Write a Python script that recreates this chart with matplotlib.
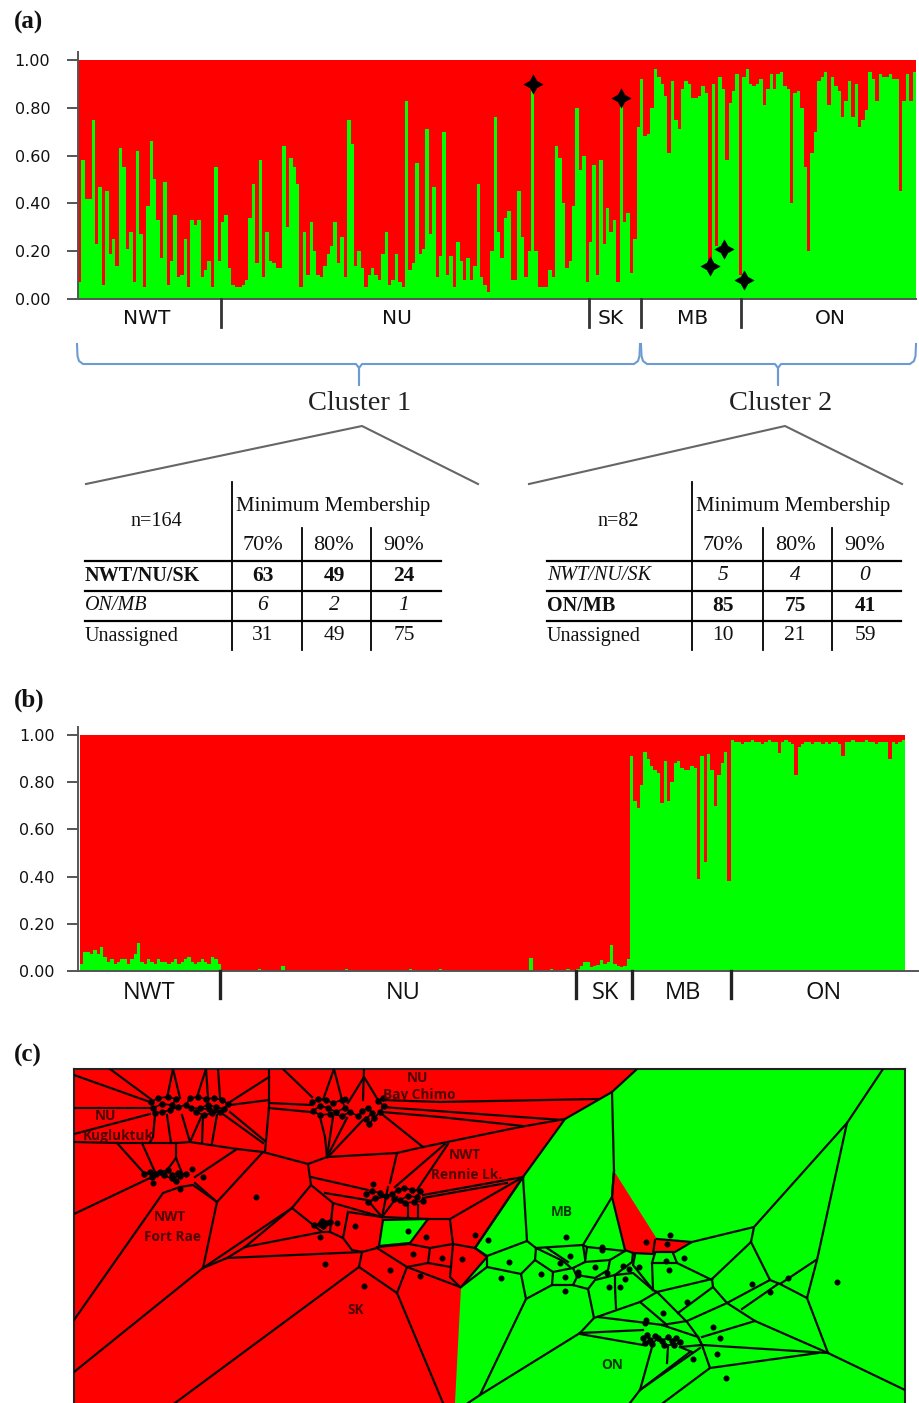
"""Admixture bar plots (a, b), membership tables and Voronoi map (c)."""
import matplotlib
matplotlib.use('Agg')
import matplotlib.pyplot as plt

RED = '#FF0000'
GREEN = '#00FF00'
AXIS = '#555555'
INK = '#111111'
BRACE = '#6C9BD2'
W, H = 919, 1403

# panel (a): share of the green cluster per individual
a_green_left = [
    .07, .58, .42, .42, .75, .23, .47, .06, .45, .19, .25, .14, .63, .55, .21, .28, .07, .62, .27, .05,
    .39, .66, .50, .33, .17, .49, .06, .16, .35, .09, .10, .25, .05, .33, .31, .33, .09, .12, .16, .05,
    .55, .16, .32, .35, .13, .06, .05, .05, .06, .08, .34, .48, .15, .58, .09, .28, .16, .15, .13, .13,
    .64, .30, .59, .55, .48, .05, .28, .10, .32, .20, .10, .09, .14, .19, .22, .32, .15, .26, .09, .75,
    .65, .14, .20, .13, .05, .10, .13, .10, .08, .19, .28, .06, .08, .19, .07, .05, .83, .12, .15, .57,
    .19, .21, .71, .27, .47, .09, .18, .70, .10, .18, .05, .24,
]
a_green_mid = [
    .16, .08, .17, .08, .14, .48, .09, .06, .03, .20, .76, .28, .17, .34, .37, .08, .08, .45, .26, .09,
    .20, .90, .20, .05, .05, .05, .12, .09, .64, .59, .40, .13, .16, .39, .80, .54, .60, .07, .24, .56,
    .10, .58, .23, .38, .28, .33, .07, .84, .32, .36, .11, .25,
]
a_green_right = [
    .72, .92, .68, .69, .80, .96, .93, .90, .85, .61, .91, .75, .71, .88, .91, .90, .84, .84, .85, .89,
    .86, .14, .90, .22, .93, .88, .58, .82, .87, .94, .10, .93, .96, .90, .89, .90, .92, .81, .88, .94,
    .88, .94, .95, .89, .88, .40, .86, .87, .80, .55, .20, .61, .70, .91, .93, .95, .81, .93, .89, .87,
    .76, .83, .91, .76, .90, .72, .75, .79, .95, .92, .83, .94, .93, .93, .94, .92, .92, .45, .83, .94,
    .83, .95,
]
a_green = a_green_left + a_green_mid + a_green_right
star_bars = [133, 159, 185, 189, 195]
star_vals = [.90, .84, .14, .21, .08]
y_ticks = [0.0, 0.2, 0.4, 0.6, 0.8, 1.0]
y_labels = ['0.00', '0.20', '0.40', '0.60', '0.80', '1.00']
region_names = ['NWT', 'NU', 'SK', 'MB', 'ON']

# panel (b): share of the green cluster per individual
b_green_nwt = [
    .03, .08, .08, .07, .09, .07, .10, .06, .04, .05, .03, .04, .05, .05, .03, .05, .07, .12, .04, .03,
    .05, .04, .03, .05, .04, .04, .03, .04, .05, .03, .04, .05, .06, .04, .03, .04, .05, .04, .03, .06,
    .05, .03,
]
b_green_nu = [
    0, 0, 0, 0, 0, 0, 0, 0, 0, 0, 0, .01, 0, 0, 0, 0, 0, 0, .02, 0,
    0, 0, 0, 0, 0, 0, 0, 0, 0, 0, 0, 0, 0, 0, 0, 0, 0, .01, 0, 0,
    0, 0, 0, 0, 0, 0, 0, 0, 0, 0, 0, 0, 0, 0, 0, 0, .01, 0, 0, 0,
    0, 0, 0, 0, 0, .01, 0, 0, 0, 0, 0, 0, 0, 0, 0, 0, 0, 0, 0, 0,
    0, 0, 0, 0, 0, 0, 0, 0, 0, 0, 0, 0, .055, 0, 0, 0, 0, 0, .01, 0,
    0, 0, 0, .01, 0, 0,
]
b_green_sk = [.01, .02, .04, .04, .015, .02, .025, .045, .03, .04, .11, .03, .02, .015, .02, .05]
b_green_mb = [
    .91, .72, .69, .79, .93, .90, .87, .85, .84, .71, .89, .72, .80, .88, .89, .86, .85, .85, .87, .86,
    .39, .91, .46, .92, .85, .70, .83, .88, .93, .38,
]
b_green_on = [
    .98, .97, .97, .96, .97, .97, .98, .97, .97, .96, .97, .98, .97, .97, .925, .97, .98, .97, .96, .83,
    .95, .96, .97, .97, .96, .97, .97, .96, .97, .96, .97, .97, .96, .91, .97, .97, .98, .97, .97, .97,
    .98, .97, .97, .96, .97, .97, .97, .90, .97, .96, .97, .98,
]
b_green = b_green_nwt + b_green_nu + b_green_sk + b_green_mb + b_green_on

# membership tables
table_cols = ['70%', '80%', '90%']
left_rows = ['NWT/NU/SK', 'ON/MB', 'Unassigned']
left_vals = [[63, 49, 24], [6, 2, 1], [31, 49, 75]]
right_rows = ['NWT/NU/SK', 'ON/MB', 'Unassigned']
right_vals = [[5, 4, 0], [85, 75, 41], [10, 21, 59]]

# panel (c): map geometry, in map units
map_red = [(74, 1069), (637, 1069), (612, 1092), (565, 1119), (523, 1177), (475, 1248), (487, 1257),
           (461, 1287), (455, 1403), (74, 1403)]
map_green_cell = [(383, 1220), (428, 1219), (410, 1243), (379, 1246)]
map_red_cell = [(614, 1171), (612, 1197), (625, 1250), (633, 1253), (653, 1254), (656, 1252), (675, 1252),
                (692, 1242), (657, 1239)]
map_edges = [
    [(74, 1075), (150, 1102)], [(110, 1069), (152, 1100)], [(74, 1108), (150, 1108)], [(74, 1134), (150, 1114)],
    [(74, 1142), (117, 1143), (177, 1143), (190, 1142), (217, 1146), (237, 1149), (263, 1152), (308, 1164),
     (327, 1157), (397, 1153), (423, 1147), (520, 1127), (565, 1119)],
    [(269, 1069), (269, 1107), (265, 1152)], [(269, 1077), (230, 1102)], [(269, 1100), (230, 1105)],
    [(230, 1112), (265, 1141)], [(220, 1112), (263, 1143)],
    [(167, 1098), (173, 1069), (180, 1098)], [(197, 1097), (206, 1069), (208, 1097)], [(218, 1069), (220, 1097)],
    [(155, 1115), (153, 1137), (150, 1142)], [(167, 1115), (171, 1143)], [(182, 1115), (190, 1142), (202, 1115)],
    [(203, 1115), (202, 1143)], [(217, 1115), (212, 1143)],
    [(283, 1069), (312, 1097)], [(323, 1100), (334, 1069), (342, 1100)], [(364, 1069), (363, 1100)],
    [(348, 1103), (364, 1077), (378, 1100)], [(269, 1103), (312, 1105)], [(269, 1108), (310, 1112)],
    [(382, 1100), (440, 1102), (598, 1099)], [(382, 1107), (520, 1117), (563, 1120)],
    [(382, 1112), (440, 1117), (523, 1126)], [(383, 1115), (423, 1147)],
    [(320, 1117), (325, 1137), (327, 1157)], [(333, 1117), (327, 1157)], [(347, 1118), (327, 1157)],
    [(363, 1120), (328, 1157)],
    [(117, 1143), (143, 1172)], [(142, 1143), (155, 1172)], [(176, 1143), (176, 1158), (165, 1173)],
    [(176, 1158), (182, 1173)], [(237, 1149), (195, 1177)], [(263, 1152), (217, 1202), (195, 1183)],
    [(74, 1214), (150, 1178)], [(74, 1320), (163, 1193), (180, 1187), (193, 1185), (217, 1202), (203, 1268)],
    [(74, 1372), (203, 1268), (227, 1258), (362, 1252)], [(203, 1268), (292, 1208), (311, 1185), (308, 1164)],
    [(175, 1403), (359, 1267), (362, 1252)], [(359, 1267), (397, 1293), (443, 1403)],
    [(397, 1293), (407, 1267), (460, 1287)], [(407, 1267), (377, 1248), (362, 1252)],
    [(407, 1267), (428, 1263), (430, 1248), (409, 1244), (377, 1247)],
    [(428, 1263), (451, 1267), (453, 1244), (430, 1248)], [(453, 1244), (475, 1248)],
    [(451, 1267), (450, 1277), (460, 1287)], [(450, 1220), (453, 1244)],
    [(428, 1219), (450, 1219), (523, 1177)],
    [(383, 1220), (428, 1219), (410, 1243), (379, 1246), (383, 1220)],
    [(311, 1185), (333, 1203), (382, 1217)], [(311, 1177), (368, 1190)], [(325, 1193), (367, 1200)],
    [(397, 1153), (390, 1183)], [(445, 1144), (395, 1187)], [(448, 1144), (417, 1190)],
    [(423, 1195), (523, 1177)], [(423, 1198), (507, 1183)],
    [(333, 1203), (330, 1232), (343, 1238), (352, 1250), (362, 1252)], [(348, 1212), (343, 1238)],
    [(292, 1208), (322, 1232), (330, 1232)], [(245, 1247), (322, 1232)], [(245, 1247), (227, 1258)],
    [(245, 1247), (292, 1208)], [(382, 1217), (370, 1203)], [(382, 1217), (388, 1187)], [(382, 1217), (397, 1197)],
    [(408, 1217), (408, 1203)], [(418, 1217), (418, 1205)], [(348, 1212), (382, 1217), (428, 1219)],
    # green side
    [(612, 1092), (614, 1171), (612, 1197), (583, 1245)], [(523, 1177), (527, 1241)],
    [(475, 1248), (487, 1256), (527, 1241), (536, 1248), (583, 1245), (587, 1247), (625, 1251)],
    [(487, 1267), (521, 1274), (535, 1260), (536, 1248)], [(461, 1287), (487, 1267), (487, 1256)],
    [(521, 1274), (526, 1299), (552, 1285), (573, 1285), (588, 1289), (595, 1280), (615, 1275), (632, 1262),
     (633, 1253)],
    [(526, 1299), (480, 1395), (468, 1403)], [(480, 1395), (580, 1333)],
    [(535, 1260), (553, 1272), (573, 1268), (585, 1262), (610, 1260), (625, 1251)], [(553, 1272), (552, 1285)],
    [(573, 1268), (577, 1277), (573, 1285)], [(585, 1262), (587, 1247)],
    [(536, 1248), (563, 1261), (570, 1267)], [(547, 1248), (568, 1262)], [(583, 1245), (585, 1258)],
    [(610, 1260), (608, 1270), (595, 1278), (577, 1275)], [(588, 1289), (594, 1318), (580, 1333)],
    [(615, 1275), (615, 1287), (616, 1308)],
    [(594, 1318), (640, 1302), (657, 1292), (653, 1290), (633, 1273), (615, 1275)],
    [(657, 1292), (712, 1279)], [(635, 1255), (633, 1265), (653, 1290)], [(655, 1253), (652, 1263), (653, 1290)],
    [(652, 1263), (677, 1263), (673, 1253)], [(677, 1263), (712, 1280)], [(655, 1240), (653, 1254)],
    [(712, 1279), (751, 1242), (754, 1227), (692, 1242)], [(754, 1227), (847, 1123), (883, 1069)],
    [(847, 1123), (817, 1260), (807, 1298), (828, 1353), (905, 1390)],
    [(751, 1242), (770, 1280), (780, 1284), (816, 1260)], [(780, 1284), (807, 1298)],
    [(770, 1280), (727, 1303), (713, 1287), (712, 1279)], [(778, 1284), (742, 1309)],
    [(727, 1303), (755, 1321), (828, 1353)], [(755, 1321), (702, 1337)], [(727, 1303), (687, 1321), (662, 1325)],
    [(713, 1287), (678, 1313)],
    [(657, 1292), (687, 1322), (698, 1337), (702, 1345), (710, 1368), (663, 1403)],
    [(710, 1368), (818, 1353)], [(702, 1345), (828, 1353)], [(700, 1348), (640, 1390), (630, 1403)],
    [(640, 1302), (667, 1325)], [(598, 1317), (663, 1325)], [(580, 1333), (643, 1330)], [(580, 1334), (643, 1345)],
    [(652, 1347), (640, 1390)], [(668, 1347), (667, 1363)], [(680, 1347), (692, 1352)], [(640, 1390), (690, 1352)],
    [(698, 1337), (702, 1345), (680, 1347)], [(662, 1325), (698, 1337)],
    [(523, 1177), (475, 1248)],
]
# isolated samples
map_dots = [
    (256, 1197), (203, 1177), (192, 1169), (153, 1183), (180, 1189), (337, 1223), (355, 1226), (320, 1237),
    (325, 1264), (364, 1286), (390, 1270), (420, 1276), (413, 1254), (442, 1258), (462, 1259), (408, 1231),
    (426, 1237), (475, 1235), (488, 1240), (509, 1262), (501, 1278), (373, 1184), (345, 1099), (566, 1237),
    (570, 1256), (560, 1263), (541, 1274), (565, 1277), (565, 1291), (578, 1272), (578, 1275), (602, 1247),
    (602, 1250), (595, 1267), (607, 1273), (623, 1266), (629, 1269), (625, 1279), (609, 1287), (620, 1287),
    (639, 1267), (646, 1242), (667, 1244), (670, 1235), (684, 1258), (666, 1261), (669, 1270), (752, 1284),
    (770, 1292), (788, 1278), (837, 1282), (687, 1302), (663, 1313), (713, 1327), (720, 1338), (717, 1354),
    (693, 1359), (726, 1378), (646, 1320), (645, 1323),
]
# tight sample groups, in walking order so that they read as a small web of cells
map_groups = [
    [(151, 1102), (158, 1098), (168, 1097), (176, 1099), (172, 1105), (162, 1104), (153, 1108), (155, 1113),
     (162, 1112), (170, 1110), (178, 1107), (186, 1105), (190, 1098), (198, 1097), (206, 1099), (214, 1098),
     (222, 1100), (228, 1104), (224, 1109), (216, 1107), (208, 1105), (200, 1108), (196, 1112), (204, 1115),
     (212, 1113), (220, 1112), (209, 1109), (191, 1108)],
    [(312, 1102), (318, 1099), (326, 1100), (333, 1103), (342, 1100), (345, 1108), (336, 1112), (328, 1108),
     (320, 1106), (313, 1111), (320, 1115), (330, 1114), (342, 1116), (350, 1112), (358, 1116), (362, 1111),
     (368, 1108), (372, 1113), (366, 1119), (369, 1124), (374, 1118), (380, 1112), (384, 1106), (378, 1101),
     (383, 1098)],
    [(144, 1174), (150, 1172), (156, 1174), (152, 1177), (160, 1172), (168, 1170), (172, 1175), (178, 1173),
     (186, 1174), (180, 1176), (172, 1178), (176, 1181), (164, 1175)],
    [(366, 1194), (372, 1191), (380, 1193), (386, 1196), (375, 1198), (368, 1202), (392, 1194), (398, 1190),
     (404, 1188), (412, 1190), (420, 1191), (417, 1197), (408, 1196), (400, 1200), (394, 1199), (405, 1203),
     (414, 1202), (423, 1201)],
    [(314, 1225), (320, 1224), (322, 1221), (326, 1223), (330, 1222), (323, 1226)],
    [(643, 1338), (647, 1335), (650, 1340), (645, 1343), (652, 1344), (658, 1338), (662, 1341), (668, 1337),
     (672, 1341), (676, 1338), (680, 1342), (674, 1345), (664, 1345), (655, 1336)],
]

plt.rcParams['font.family'] = 'Liberation Serif'
fig = plt.figure(figsize=(W / 100, H / 100), dpi=100, facecolor='white')


def axes_px(x0, y0, x1, y1, **kw):
    return fig.add_axes([x0 / W, 1 - y1 / H, (x1 - x0) / W, (y1 - y0) / H], **kw)


def struct_plot(ax, green, n_span):
    xs = range(len(green))
    reds = [1 - g for g in green]
    ax.bar(xs, green, width=1.0, align='edge', color=GREEN, linewidth=0, antialiased=False, zorder=2)
    ax.bar(xs, reds, bottom=green, width=1.0, align='edge', color=RED, linewidth=0, antialiased=False, zorder=2)
    ax.set_ylim(0, 1.033)
    ax.set_yticks(y_ticks)
    ax.set_yticklabels(y_labels, fontsize=11.5, family='DejaVu Sans', color=INK)
    ax.set_xticks([])
    ax.tick_params(axis='y', length=8, width=1.4, color=AXIS, pad=12)
    for s in ['top', 'right']:
        ax.spines[s].set_visible(False)
    for s in ['left', 'bottom']:
        ax.spines[s].set_color(AXIS)
        ax.spines[s].set_linewidth(1.4)
    ax.set_facecolor('none')


# panel a
ax_a = axes_px(78, 52, 916, 299)
struct_plot(ax_a, a_green, len(a_green))
ax_a.set_xlim(0, len(a_green))
ax_a.plot([b + 0.5 for b in star_bars], star_vals, ls='none', marker=(4, 1, 0), ms=14, mfc='black',
          mec='black', mew=0.3, zorder=4)

# panel b
ax_b = axes_px(78, 727, 918, 971)
struct_plot(ax_b, b_green, len(b_green))
ax_b.set_ylim(0, 244 / 236)
ax_b.set_xlim(-0.6, len(b_green) * 838 / 825)
ax_b.tick_params(axis='y', pad=9)

# panel c
ax_c = axes_px(74, 1069, 905, 1403)
ax_c.set_xlim(74, 905)
ax_c.set_ylim(1403, 1069)
ax_c.set_facecolor(GREEN)
ax_c.fill(*zip(*map_red), color=RED, lw=0, zorder=1)
ax_c.fill(*zip(*map_green_cell), color=GREEN, lw=0, zorder=2)
ax_c.fill(*zip(*map_red_cell), color=RED, lw=0, zorder=2)
for edge in map_edges:
    ax_c.plot(*zip(*edge), color='#0a0a0a', lw=1.6, solid_joinstyle='round', zorder=3)
ax_c.plot(*zip(*map_red[1:-2]), color='#0a0a0a', lw=1.6, zorder=3)
ax_c.plot(*zip(*map_red_cell), color='#0a0a0a', lw=1.6, zorder=3)
ax_c.plot(*zip(*map_dots), ls='none', marker='o', ms=3.3, color='black', zorder=4)
for group in map_groups:
    ax_c.plot(*zip(*group), color='black', lw=1.2, marker='o', ms=3.6, zorder=4)
ax_c.set_xticks([])
ax_c.set_yticks([])
for s in ax_c.spines.values():
    s.set_color('#222222')
    s.set_linewidth(1.5)
ax_c.spines['bottom'].set_visible(False)

map_labels = [('NU', 417, 1078, '#4a0500'), ('Bay Chimo', 419, 1095, '#4a0500'), ('NU', 105, 1116, '#4a0500'),
              ('Kugluktuk', 118, 1136, '#4a0500'), ('NWT', 465, 1155, '#4a0500'), ('Rennie Lk.', 467, 1175, '#4a0500'),
              ('NWT', 170, 1217, '#4a0500'), ('Fort Rae', 172, 1237, '#4a0500'), ('SK', 356, 1310, '#4a0500'),
              ('MB', 562, 1212, '#063a00'), ('ON', 612, 1365, '#063a00')]
for txt, x, y, col in map_labels:
    ax_c.text(x, y, txt, ha='center', va='center', fontsize=9.8, fontweight='bold', family='Open Sans',
              color=col, zorder=5)

# everything else sits on a page layer in image pixels
page = fig.add_axes([0, 0, 1, 1], zorder=5)
page.set_xlim(0, W)
page.set_ylim(H, 0)
page.axis('off')

for txt, y in [('(a)', 22), ('(b)', 700), ('(c)', 1055)]:
    page.text(14, y, txt, fontsize=18, fontweight='bold', ha='left', va='center', color=INK)

for x in [221, 589, 641, 741]:
    page.plot([x, x], [299, 327], color='#333333', lw=2.0)
for x in [220, 576, 632, 731]:
    page.plot([x, x], [971, 998], color='#222222', lw=2.4)
for name, x in zip(region_names, [147, 397, 611, 693, 830]):
    page.text(x, 319, name, fontsize=14.5, family='DejaVu Sans', ha='center', va='center', color=INK)
for name, x in zip(region_names, [149, 403, 605, 683, 824]):
    page.text(x, 993, name, fontsize=17, family='Open Sans', ha='center', va='center', color=INK)

# braces under panel a
for x0, xm, x1 in [(77, 359, 640), (641, 778, 916)]:
    page.plot([x0, x0 + 0.5, x0 + 2, x0 + 6, xm - 3, xm, xm, xm, xm + 3, x1 - 6, x1 - 2, x1 - 0.5, x1],
              [344, 356, 361, 364, 364, 368, 385, 368, 364, 364, 361, 356, 344], color=BRACE, lw=1.5)
page.text(360, 403, 'Cluster 1', fontsize=20.5, ha='center', va='center', color='#222222')
page.text(781, 403, 'Cluster 2', fontsize=20.5, ha='center', va='center', color='#222222')
for xs in [(86, 362, 478), (529, 785, 902)]:
    page.plot(xs, [484, 426, 484], color='#666666', lw=1.5)


def draw_table(x0, x1, vx, n_txt, name_x, rows, vals, bold_row, ital_row):
    for y in [561, 591, 621]:
        page.plot([x0, x1], [y, y], color='black', lw=1.6)
    page.plot([vx[0], vx[0]], [482, 650], color='black', lw=1.3)
    for x in vx[1:]:
        page.plot([x, x], [528, 650], color='black', lw=1.3)
    page.text(name_x, 522, n_txt, fontsize=14.5, ha='center', va='center', color=INK)
    page.text(vx[0] + 101, 507, 'Minimum Membership', fontsize=15, ha='center', va='center', color=INK)
    centers = [vx[0] + 31, vx[1] + 32, vx[2] + 33]
    for c, col in zip(centers, table_cols):
        page.text(c, 545, col, fontsize=16, ha='center', va='center', color=INK)
    for r, (row, row_vals, y) in enumerate(zip(rows, vals, [576, 606, 636])):
        style = {'fontweight': 'bold' if r == bold_row else 'normal',
                 'fontstyle': 'italic' if r == ital_row else 'normal'}
        page.text(x0, y, row, fontsize=14.5, ha='left', va='center', color=INK, **style)
        for c, v in zip(centers, row_vals):
            page.text(c, y, str(v), fontsize=15.5, ha='center', va='center', color=INK, **style)


draw_table(85, 441, [232, 302, 371], 'n=164', 156, left_rows, left_vals, 0, 1)
draw_table(547, 901, [692, 763, 832], 'n=82', 618, right_rows, right_vals, 1, 0)

fig.savefig('out.png', dpi=100, facecolor='white')
